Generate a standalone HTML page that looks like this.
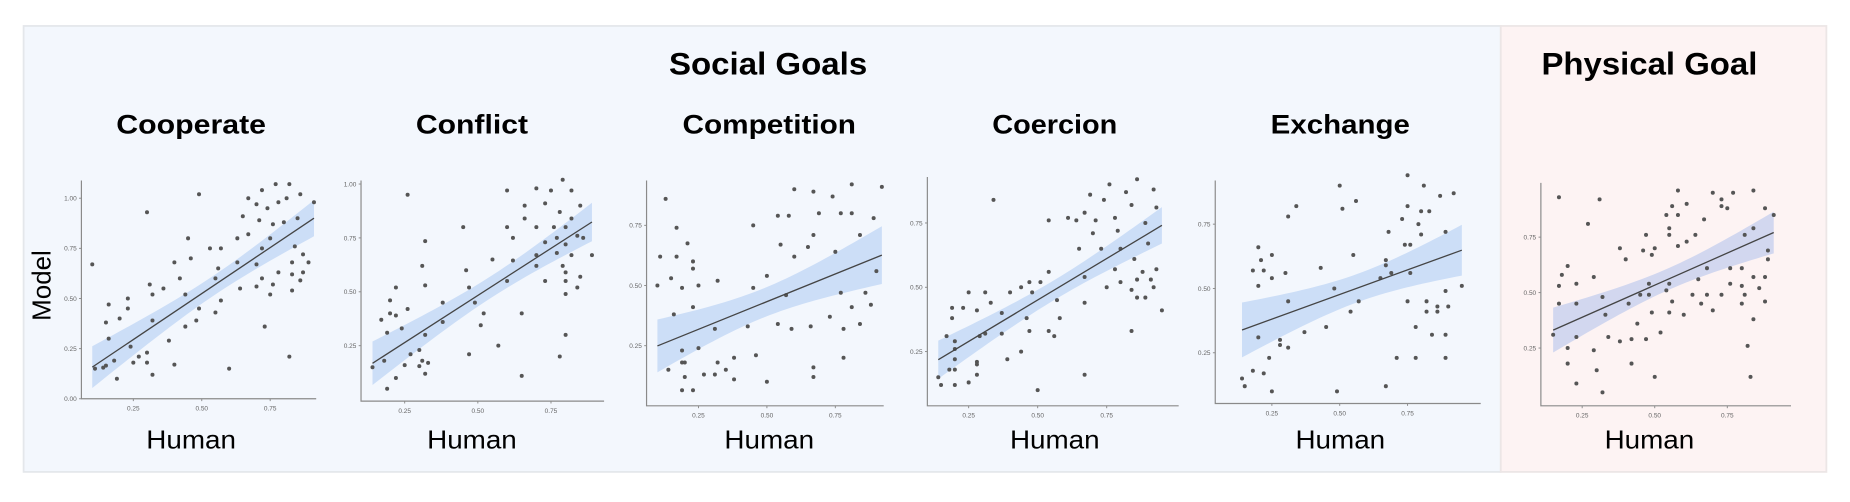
<!DOCTYPE html>
<html><head><meta charset="utf-8"><style>
html,body{margin:0;padding:0;background:#fff;}
svg{display:block;font-family:"Liberation Sans",sans-serif;}
</style></head><body>
<svg id="fig" width="1850" height="502" viewBox="0 0 1568 425.5" preserveAspectRatio="none" xmlns="http://www.w3.org/2000/svg">
<rect x="20" y="22" width="1252" height="378" fill="#f3f7fd" stroke="#e4e7eb" stroke-width="1.5"/>
<rect x="1272" y="22" width="276" height="378" fill="#fdf3f3" stroke="#ece6e6" stroke-width="1.5"/>
<text x="651" y="63" text-anchor="middle" font-size="27" font-weight="bold" fill="#000" textLength="168" lengthAdjust="spacingAndGlyphs">Social Goals</text>
<text x="1398" y="63" text-anchor="middle" font-size="27" font-weight="bold" fill="#000" textLength="183" lengthAdjust="spacingAndGlyphs">Physical Goal</text>
<text transform="translate(43,242) rotate(-90)" text-anchor="middle" font-size="22" fill="#000">Model</text>
<g id="plots"></g>
</svg>
<script>
const panelNames = ["Cooperate","Conflict","Competition","Coercion","Exchange",""];
const xTickLabels = ["0.25","0.50","0.75"];
const xTicks = [0.25,0.5,0.75];
const yTicks1 = [0,0.25,0.5,0.75,1.0];
const yTicks2 = [0.25,0.5,0.75,1.0];
const yTicks3 = [0.25,0.5,0.75];
const fitSlope = [0.917,0.874,0.46,0.645,0.383,0.579];
const fitIntercept = [0.066,0.046,0.203,0.128,0.285,0.244];
const cooperateX=[0.10,0.11,0.14,0.15,0.15,0.16,0.16,0.18,0.19,0.20,0.23,0.23,0.24,0.25,0.27,0.30,0.30,0.30,0.31,0.32,0.32,0.32,0.36,0.38,0.40,0.40,0.42,0.44,0.44,0.45,0.46,0.48,0.49,0.49,0.53,0.55,0.56,0.55,0.57,0.57,0.60,0.63,0.63,0.64,0.65,0.67,0.67,0.70,0.70,0.70,0.71,0.72,0.72,0.72,0.73,0.74,0.75,0.75,0.76,0.76,0.77,0.78,0.78,0.80,0.81,0.82,0.82,0.83,0.83,0.83,0.84,0.85,0.86,0.86,0.87,0.87,0.89,0.91];
const cooperateY=[0.67,0.15,0.155,0.165,0.38,0.30,0.47,0.19,0.10,0.40,0.50,0.45,0.26,0.18,0.21,0.93,0.18,0.23,0.57,0.52,0.12,0.39,0.55,0.29,0.68,0.17,0.60,0.36,0.52,0.80,0.70,0.39,1.02,0.45,0.75,0.60,0.65,0.43,0.75,0.49,0.15,0.68,0.80,0.55,0.91,1.00,0.82,0.97,0.67,0.56,0.89,1.04,0.75,0.60,0.36,0.95,0.80,0.52,0.87,0.57,1.07,0.98,0.63,0.88,1.00,1.07,0.21,0.68,0.54,0.62,0.76,0.90,1.02,0.59,0.63,0.72,0.68,0.98];
const conflictX=[0.14,0.18,0.17,0.19,0.19,0.20,0.20,0.22,0.22,0.22,0.24,0.25,0.26,0.26,0.27,0.30,0.30,0.31,0.31,0.32,0.32,0.32,0.32,0.33,0.38,0.38,0.45,0.46,0.47,0.47,0.49,0.51,0.52,0.55,0.57,0.60,0.60,0.60,0.62,0.62,0.65,0.65,0.66,0.66,0.70,0.70,0.70,0.70,0.73,0.73,0.73,0.75,0.76,0.77,0.77,0.78,0.78,0.79,0.79,0.80,0.80,0.80,0.80,0.80,0.80,0.82,0.82,0.82,0.84,0.84,0.85,0.85,0.86,0.89];
const conflictY=[0.15,0.18,0.37,0.05,0.31,0.40,0.46,0.10,0.52,0.39,0.33,0.16,0.95,0.42,0.21,0.23,0.155,0.62,0.18,0.12,0.735,0.53,0.30,0.17,0.45,0.36,0.80,0.60,0.21,0.52,0.45,0.345,0.40,0.65,0.25,0.97,0.80,0.55,0.75,0.645,0.40,0.11,0.90,0.84,0.98,0.80,0.62,0.67,0.55,0.91,0.73,0.97,0.80,0.75,0.68,0.20,0.87,0.62,1.02,0.59,0.55,0.49,0.30,0.80,0.72,0.67,0.97,0.84,0.52,0.76,0.57,0.90,0.75,0.67];
const competitionX=[0.10,0.11,0.13,0.14,0.15,0.16,0.17,0.17,0.19,0.19,0.19,0.19,0.20,0.20,0.21,0.23,0.23,0.23,0.23,0.25,0.25,0.27,0.31,0.31,0.32,0.32,0.35,0.38,0.38,0.43,0.45,0.45,0.46,0.50,0.50,0.54,0.54,0.55,0.57,0.58,0.59,0.60,0.60,0.65,0.66,0.67,0.67,0.67,0.67,0.69,0.73,0.74,0.75,0.77,0.77,0.78,0.78,0.81,0.81,0.81,0.84,0.84,0.86,0.88,0.89,0.90,0.92];
const competitionY=[0.50,0.62,0.86,0.15,0.53,0.38,0.62,0.74,0.18,0.23,0.49,0.065,0.12,0.18,0.675,0.065,0.41,0.57,0.60,0.50,0.24,0.13,0.13,0.32,0.52,0.18,0.15,0.20,0.11,0.33,0.75,0.49,0.21,0.54,0.10,0.34,0.79,0.67,0.46,0.79,0.32,0.62,0.90,0.66,0.33,0.89,0.71,0.16,0.12,0.80,0.37,0.87,0.64,0.80,0.47,0.20,0.32,0.80,0.41,0.92,0.71,0.34,0.47,0.42,0.78,0.56,0.91];
const coercionX=[0.14,0.15,0.17,0.18,0.19,0.19,0.20,0.20,0.20,0.20,0.20,0.23,0.25,0.25,0.28,0.28,0.28,0.28,0.29,0.31,0.31,0.33,0.34,0.37,0.37,0.39,0.40,0.44,0.44,0.46,0.47,0.47,0.48,0.50,0.51,0.54,0.54,0.54,0.56,0.57,0.58,0.61,0.64,0.65,0.67,0.67,0.67,0.67,0.69,0.70,0.71,0.73,0.74,0.75,0.76,0.78,0.78,0.79,0.80,0.80,0.82,0.84,0.84,0.84,0.85,0.86,0.86,0.86,0.88,0.89,0.89,0.90,0.91,0.92,0.92,0.93,0.93,0.95];
const coercionY=[0.15,0.12,0.31,0.18,0.42,0.38,0.29,0.26,0.22,0.18,0.12,0.42,0.13,0.48,0.21,0.20,0.41,0.16,0.31,0.48,0.32,0.44,0.84,0.32,0.40,0.22,0.48,0.50,0.25,0.38,0.33,0.52,0.48,0.10,0.52,0.56,0.33,0.76,0.31,0.45,0.38,0.77,0.76,0.65,0.44,0.54,0.79,0.16,0.86,0.71,0.76,0.65,0.84,0.50,0.90,0.77,0.57,0.72,0.52,0.65,0.87,0.33,0.82,0.49,0.61,0.92,0.53,0.46,0.56,0.75,0.46,0.67,0.53,0.88,0.50,0.57,0.81,0.41];
const exchangeX=[0.14,0.15,0.18,0.18,0.20,0.20,0.20,0.21,0.22,0.22,0.24,0.25,0.25,0.25,0.28,0.28,0.30,0.31,0.31,0.31,0.34,0.37,0.43,0.45,0.48,0.49,0.50,0.51,0.54,0.55,0.56,0.57,0.65,0.67,0.67,0.67,0.68,0.69,0.71,0.73,0.74,0.75,0.75,0.75,0.76,0.76,0.78,0.78,0.79,0.80,0.80,0.81,0.82,0.82,0.83,0.84,0.86,0.86,0.87,0.89,0.89,0.89,0.89,0.90,0.92,0.95];
const exchangeY=[0.15,0.12,0.57,0.18,0.66,0.51,0.31,0.61,0.57,0.17,0.23,0.63,0.54,0.10,0.30,0.28,0.56,0.27,0.45,0.78,0.82,0.33,0.58,0.35,0.50,0.10,0.90,0.81,0.41,0.63,0.84,0.45,0.54,0.12,0.61,0.59,0.72,0.56,0.23,0.77,0.67,0.94,0.82,0.45,0.56,0.67,0.35,0.23,0.75,0.80,0.71,0.90,0.45,0.41,0.80,0.32,0.43,0.41,0.86,0.72,0.23,0.32,0.49,0.43,0.87,0.51];
const physicalX=[0.15,0.17,0.17,0.17,0.18,0.20,0.20,0.20,0.23,0.23,0.23,0.23,0.27,0.29,0.29,0.30,0.31,0.32,0.32,0.33,0.34,0.38,0.38,0.40,0.41,0.42,0.42,0.44,0.45,0.46,0.47,0.47,0.48,0.48,0.49,0.49,0.50,0.50,0.52,0.54,0.54,0.55,0.55,0.55,0.55,0.56,0.56,0.58,0.58,0.58,0.60,0.61,0.61,0.63,0.64,0.65,0.66,0.67,0.68,0.68,0.70,0.70,0.73,0.73,0.73,0.75,0.76,0.76,0.77,0.80,0.80,0.80,0.81,0.81,0.82,0.83,0.84,0.84,0.84,0.84,0.86,0.88,0.88,0.88,0.89,0.89,0.91];
const physicalY=[0.31,0.93,0.45,0.53,0.58,0.62,0.18,0.25,0.30,0.45,0.09,0.54,0.81,0.57,0.24,0.15,0.92,0.48,0.05,0.40,0.30,0.70,0.28,0.65,0.45,0.18,0.29,0.36,0.49,0.69,0.29,0.76,0.54,0.49,0.67,0.41,0.70,0.12,0.32,0.85,0.51,0.79,0.76,0.54,0.41,0.89,0.46,0.85,0.96,0.71,0.40,0.90,0.73,0.49,0.76,0.56,0.45,0.83,0.49,0.61,0.95,0.42,0.49,0.92,0.89,0.88,0.61,0.54,0.95,0.53,0.61,0.45,0.49,0.76,0.26,0.12,0.96,0.38,0.57,0.79,0.52,0.57,0.46,0.88,0.69,0.65,0.85];

const panels=[
 {xs:cooperateX,ys:cooperateY,yt:yTicks1,ax:69,top:153,bot:338,xe:268,x0:113,sx:232,y0:295.5,sy:170,cx:162},
 {xs:conflictX,ys:conflictY,yt:yTicks2,ax:306,top:153,bot:340,xe:512,x0:343,sx:248,y0:293,sy:182.7,cx:400},
 {xs:competitionX,ys:competitionY,yt:yTicks3,ax:548,top:153,bot:344,xe:749,x0:592,sx:232,y0:293,sy:204,cx:652},
 {xs:coercionX,ys:coercionY,yt:yTicks3,ax:786,top:150,bot:344,xe:999,x0:821,sx:234,y0:298,sy:218,cx:894},
 {xs:exchangeX,ys:exchangeY,yt:yTicks3,ax:1030,top:153,bot:342,xe:1255,x0:1078,sx:230,y0:299,sy:218,cx:1136},
 {xs:physicalX,ys:physicalY,yt:yTicks3,ax:1306,top:155,bot:344,xe:1518,x0:1341,sx:246,y0:295,sy:188,cx:1398}
];
const titleW=[127,95,147,106,118,0];
const NS="http://www.w3.org/2000/svg";
const root=document.getElementById('plots');
function mk(tag,attrs,parent){const e=document.createElementNS(NS,tag);for(const k in attrs)e.setAttribute(k,attrs[k]);parent.appendChild(e);return e;}
panels.forEach((p,i)=>{
 const g=mk('g',{},root);
 
 
 const X=v=>p.x0+(v-0.25)*p.sx, Y=v=>p.y0-(v-0.25)*p.sy;
 if(panelNames[i]){const t=mk('text',{x:p.cx,y:113,'text-anchor':'middle','font-size':'23','font-weight':'bold',fill:'#000',textLength:titleW[i],lengthAdjust:'spacingAndGlyphs'},g);t.textContent=panelNames[i];
  
  }
 const h=mk('text',{x:p.cx,y:380,'text-anchor':'middle','font-size':'22',fill:'#000',textLength:76,lengthAdjust:'spacingAndGlyphs'},g);h.textContent='Human';
 
 
 const n=p.xs.length;let mx=0;for(let k=0;k<n;k++)mx+=p.xs[k];mx/=n;
 const b=fitSlope[i],a=fitIntercept[i];
 let sxx=0,sse=0;for(let k=0;k<n;k++){sxx+=(p.xs[k]-mx)**2;sse+=(p.ys[k]-a-b*p.xs[k])**2;}
 const s=Math.sqrt(sse/(n-2));const xmin=Math.min(...p.xs),xmax=Math.max(...p.xs);
 const up=[],lo=[];for(let k=0;k<=40;k++){const xv=xmin+(xmax-xmin)*k/40;const f=a+b*xv;const se=1.99*s*Math.sqrt(1/n+(xv-mx)**2/sxx);up.push(X(xv)+','+Y(f+se));lo.unshift(X(xv)+','+Y(f-se));}
 const band=mk('polygon',{points:up.concat(lo).join(' '),fill:i==5?'#c3cdee':'#c2d7f5',opacity:i==5?'0.75':'0.8'},g);
 
 
 const axes=mk('path',{d:`M${p.ax},${p.top}V${p.bot}H${p.xe}`,fill:'none',stroke:'#8a8a8a','stroke-width':'1'},g);
 
 
 p.yt.forEach(v=>{const t=mk('text',{x:p.ax-4,y:Y(v)+2,'text-anchor':'end','font-size':'5.5',fill:'#666'},g);t.textContent=v.toFixed(2);
  
  
  mk('line',{x1:p.ax-2,x2:p.ax,y1:Y(v),y2:Y(v),stroke:'#8a8a8a','stroke-width':'0.8'},g);});
 xTicks.forEach((v,j)=>{const t=mk('text',{x:X(v),y:p.bot+10,'text-anchor':'middle','font-size':'5.5',fill:'#666'},g);t.textContent=xTickLabels[j];
  
  
  mk('line',{x1:X(v),x2:X(v),y1:p.bot,y2:p.bot+2,stroke:'#8a8a8a','stroke-width':'0.8'},g);});
 for(let k=0;k<n;k++){const c=mk('circle',{cx:X(p.xs[k]),cy:Y(p.ys[k]),r:'1.7',fill:'#555'},g);
  
  }
 const ln=mk('line',{x1:X(xmin),y1:Y(a+b*xmin),x2:X(xmax),y2:Y(a+b*xmax),stroke:'#444','stroke-width':'1.1'},g);
 
 
});
</script>
</body></html>
